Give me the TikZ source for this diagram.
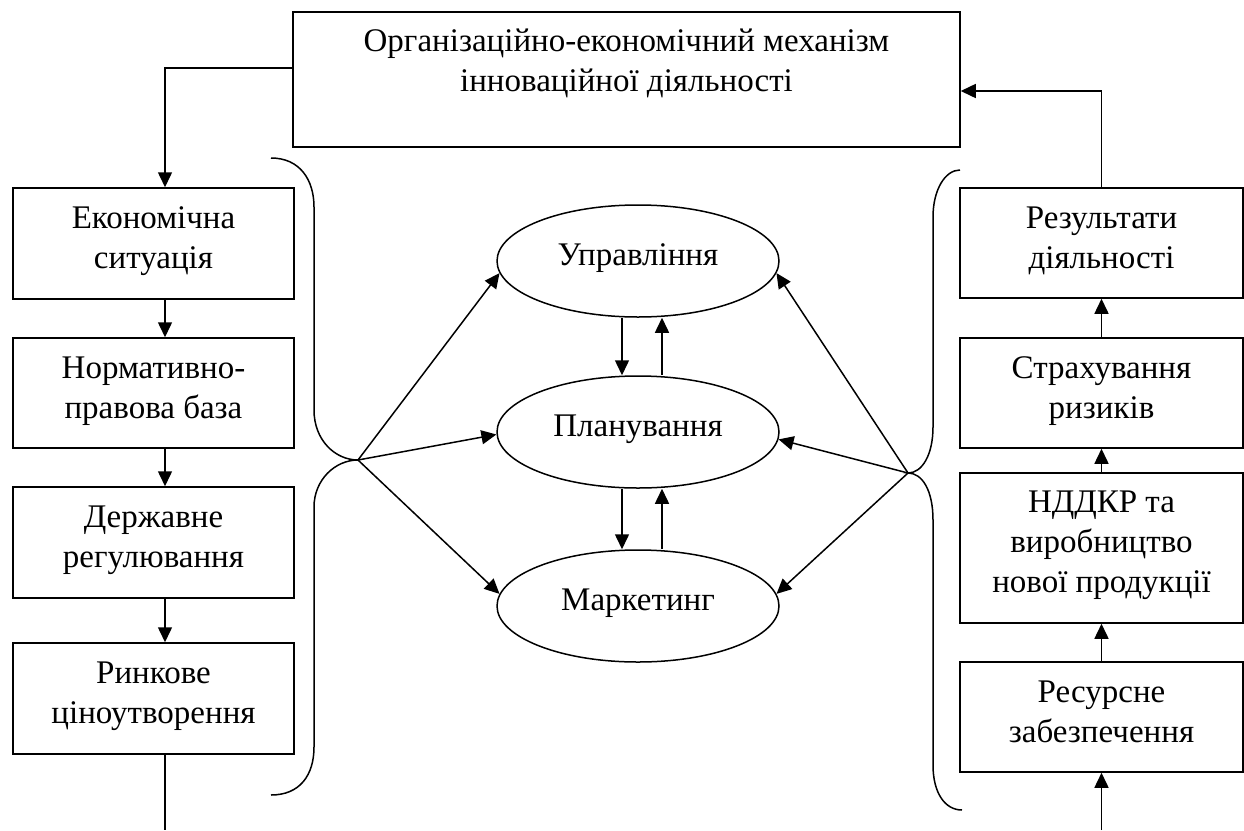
\documentclass[tikz,border=0pt]{standalone}
\usepackage{fontspec}
\setmainfont{Liberation Serif}
\usetikzlibrary{arrows.meta,shapes.geometric}
\begin{document}
\begin{tikzpicture}[x=1pt,y=-1pt,
  every node/.style={font=\fontsize{33}{40}\selectfont},
  ln/.style={line width=1.5pt},
  arr/.style={line width=1.5pt,-{Triangle[length=15pt,width=14pt]}},
  boxn/.style={draw,line width=1.5pt,rectangle,inner sep=0pt},
  lbox/.style={boxn,minimum width=281pt},
  rbox/.style={boxn,minimum width=283pt},
  txt/.style={anchor=north,align=center,inner sep=0pt},
  ell/.style={draw,ellipse,line width=1.5pt,inner sep=0pt,minimum width=282pt,minimum height=112pt,text height=23pt,text depth=15pt}]
\useasboundingbox (0,0) rectangle (1244,830);

% top box
\node[boxn,minimum width=667pt,minimum height=135pt] (top) at (626.5,79.5) {};
\node[txt] (toptext) at ([yshift=-17pt]top.north) {Організаційно-економічний механізм\\інноваційної діяльності};

% left column
\node[lbox,minimum height=111pt] (l1) at (153.5,243.5) {};
\node[lbox,minimum height=110pt] (l2) at (153.5,393) {};
\node[lbox,minimum height=111pt] (l3) at (153.5,542.5) {};
\node[lbox,minimum height=111pt] (l4) at (153.5,698.5) {};
\node[txt] (l1t) at ([yshift=-19pt]l1.north) {Економічна\\ситуація};
\node[txt] (l2t) at ([yshift=-19pt]l2.north) {Нормативно-\\правова база};
\node[txt] (l3t) at ([yshift=-19pt]l3.north) {Державне\\регулювання};
\node[txt] (l4t) at ([yshift=-19pt]l4.north) {Ринкове\\ціноутворення};

% right column
\node[rbox,minimum height=110pt] (r1) at (1101.5,243) {};
\node[rbox,minimum height=110pt] (r2) at (1101.5,393) {};
\node[rbox,minimum height=150pt] (r3) at (1101.5,548) {};
\node[rbox,minimum height=110pt] (r4) at (1101.5,717) {};
\node[txt] (r1t) at ([yshift=-19pt]r1.north) {Результати\\діяльності};
\node[txt] (r2t) at ([yshift=-19pt]r2.north) {Страхування\\ризиків};
\node[txt] (r3t) at ([yshift=-18pt]r3.north) {НДДКР та\\виробництво\\нової продукції};
\node[txt] (r4t) at ([yshift=-19pt]r4.north) {Ресурсне\\забезпечення};

% ellipses
\node[ell] (e1) at (638,261) {Управління};
\node[ell] (e2) at (638,432) {Планування};
\node[ell] (e3) at (638,606) {Маркетинг};

% braces
\coordinate (lp) at (358,460);
\coordinate (rp) at (908,473);
\draw[ln] (271,158) .. controls (300,158) and (314,180) .. (314,207) -- (314,410)
  .. controls (314,440) and (335,460) .. (lp)
  .. controls (335,460) and (314,480) .. (314,507) -- (314,747)
  .. controls (314,775) and (300,795) .. (271,795);
\draw[ln] (960,170) .. controls (945,170) and (933,190) .. (933,217) -- (933,427)
  .. controls (933,455) and (922,473) .. (rp)
  .. controls (922,473) and (933,490) .. (933,520) -- (933,765)
  .. controls (933,793) and (945,810) .. (962,810);

% connectors top
\draw[arr] ([yshift=11.5pt]top.west) -| ([xshift=11.5pt]l1.north);
\draw[arr] (r1.north) |- ([yshift=-11.5pt]top.east);

% left chain
\draw[arr] ([xshift=11.5pt]l1.south) -- ([xshift=11.5pt]l2.north);
\draw[arr] ([xshift=11.5pt]l2.south) -- ([xshift=11.5pt]l3.north);
\draw[arr] ([xshift=11.5pt]l3.south) -- ([xshift=11.5pt]l4.north);
\coordinate (lb) at (165,830);
\draw[ln] ([xshift=11.5pt]l4.south) -- (lb);

% right chain
\coordinate (rb) at (1101.5,830);
\draw[arr] (rb) -- (r4.south);
\draw[arr] (r4.north) -- (r3.south);
\draw[arr] (r3.north) -- (r2.south);
\draw[arr] (r2.north) -- (r1.south);

% fan arrows
\draw[arr] (lp) -- (e1.185);
\draw[arr] (lp) -- (e2.181);
\draw[arr] (lp) -- (e3.175);
\draw[arr] (rp) -- (e1.355);
\draw[arr] (rp) -- (e2.357);
\draw[arr] (rp) -- (e3.5);

% between ellipses
\draw[arr] ([xshift=-16pt]e1.south) -- ([xshift=-16pt]e2.north);
\draw[arr] ([xshift=24pt]e2.north) -- ([xshift=24pt]e1.south);
\draw[arr] ([xshift=-16pt]e2.south) -- ([xshift=-16pt]e3.north);
\draw[arr] ([xshift=24pt]e3.north) -- ([xshift=24pt]e2.south);
\end{tikzpicture}
\end{document}
